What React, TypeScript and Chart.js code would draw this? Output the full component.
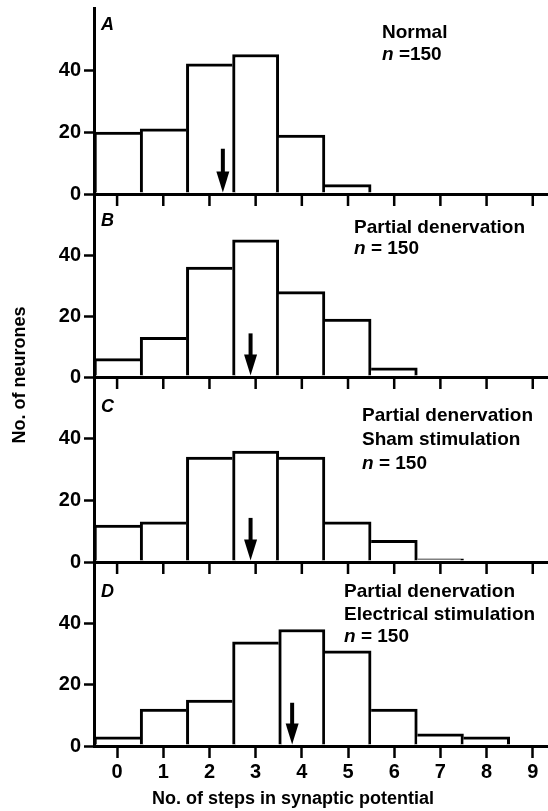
import React, { useEffect, useRef } from 'react';
import { Chart, registerables } from 'chart.js';

Chart.register(...registerables);

// ---- data ----
const xTickValues = [0, 1, 2, 3, 4, 5, 6, 7, 8, 9];
const xTickLabels = ['0', '1', '2', '3', '4', '5', '6', '7', '8', '9'];
const yTickValues = [0, 20, 40];

const countsA = [20, 21, 42, 45, 19, 3];
const countsB = [6, 13, 36, 45, 28, 19, 3];
const countsC = [12, 13, 34, 36, 34, 13, 7, 1];
const countsD = [3, 12, 15, 34, 38, 31, 12, 4, 3];

const arrowX = [2.29, 2.89, 2.89, 3.79];
const arrowTop = [14.6, 14.3, 14.3, 14.1];

const panelLetters = ['A', 'B', 'C', 'D'];
const notesA = ['Normal', 'n =150'];
const notesB = ['Partial denervation', 'n = 150'];
const notesC = ['Partial denervation', 'Sham stimulation', 'n = 150'];
const notesD = ['Partial denervation', 'Electrical stimulation', 'n = 150'];

const yTitle = 'No. of neurones';
const xTitle = 'No. of steps in synaptic potential';

// ---- layout / style ----
const panelCounts = [countsA, countsB, countsC, countsD];
const panelNotes = [notesA, notesB, notesC, notesD];
const panelIds = ['yA', 'yB', 'yC', 'yD'];
const panelWeights = [186, 183, 185, 184];
const letterOffset = [17, 27, 30, 30];
const noteLeft = [382, 354, 362, 344];
const noteFirst = [25, 34, 39, 30];
const noteGap = [22, 21, 24, 22.5];
const BW = 3;

const FAMILY = '"Liberation Sans", Arial, Helvetica, sans-serif';
const bold = (s: number) => `bold ${s}px ${FAMILY}`;
const boldItalic = (s: number) => `italic bold ${s}px ${FAMILY}`;

const decorPlugin = {
  id: 'decor',
  afterDraw(chart: any) {
    const { ctx, scales } = chart;
    const x = scales.x;
    ctx.save();
    ctx.fillStyle = '#000';
    ctx.strokeStyle = '#000';
    panelIds.forEach((id, i) => {
      const y = scales[id];
      const y0 = y.getPixelForValue(0);
      if (i < 3) {
        ctx.lineWidth = 2.5;
        ctx.beginPath();
        xTickValues.forEach((v) => {
          const px = x.getPixelForValue(v);
          ctx.moveTo(px, y0);
          ctx.lineTo(px, y0 + 12);
        });
        ctx.stroke();
      }
      const ax = x.getPixelForValue(arrowX[i]);
      const at = y.getPixelForValue(arrowTop[i]);
      const tip = y0 - 1.5;
      const headH = 21;
      const headW = 13;
      ctx.lineWidth = 4;
      ctx.beginPath();
      ctx.moveTo(ax, at);
      ctx.lineTo(ax, tip - headH + 2);
      ctx.stroke();
      ctx.beginPath();
      ctx.moveTo(ax - headW / 2, tip - headH);
      ctx.lineTo(ax + headW / 2, tip - headH);
      ctx.lineTo(ax, tip);
      ctx.closePath();
      ctx.fill();
      ctx.textBaseline = 'middle';
      ctx.textAlign = 'left';
      ctx.font = boldItalic(18);
      ctx.fillText(panelLetters[i], x.left + 7, y.top + letterOffset[i]);
      panelNotes[i].forEach((line, k) => {
        const ty = y.top + noteFirst[i] + k * noteGap[i];
        let tx = noteLeft[i];
        if (line.startsWith('n ')) {
          ctx.font = boldItalic(19);
          ctx.fillText('n', tx, ty);
          tx += ctx.measureText('n').width;
          ctx.font = bold(19);
          ctx.fillText(line.slice(1), tx, ty);
        } else {
          ctx.font = bold(19);
          ctx.fillText(line, tx, ty);
        }
      });
    });
    ctx.font = bold(18);
    ctx.textAlign = 'center';
    ctx.textBaseline = 'middle';
    ctx.fillText(xTitle, 293, 799);
    ctx.translate(20, 375);
    ctx.rotate(-Math.PI / 2);
    ctx.fillText(yTitle, 0, 0);
    ctx.restore();
  },
};

const makeY = (i: number) => ({
  type: 'linear',
  position: 'left',
  stack: 'panels',
  stackWeight: panelWeights[i],
  weight: 4 - i,
  min: 0,
  max: 60,
  afterBuildTicks: (s: any) => {
    s.ticks = yTickValues.map((v) => ({ value: v }));
  },
  afterFit: (s: any) => {
    s.width = 94;
    s.paddingTop = 0;
    s.paddingBottom = 0;
  },
  border: { display: true, color: '#000', width: 3 },
  grid: {
    drawOnChartArea: true,
    color: (c: any) => (c.tick && c.tick.value === 0 ? '#000' : 'rgba(0,0,0,0)'),
    lineWidth: 3,
    drawTicks: true,
    tickLength: 10,
    tickWidth: 2.5,
    tickColor: '#000',
  },
  ticks: { color: '#000', font: { family: FAMILY, size: 20, weight: 'bold' }, padding: 3 },
});

// one border per shared edge: the taller bar owns the common side
const sideWidths = (ctx: any) => {
  const d = ctx.dataset.data;
  const k = ctx.dataIndex;
  const h = d[k].y;
  const prev = k > 0 ? d[k - 1].y : -1;
  const next = k < d.length - 1 ? d[k + 1].y : -1;
  return {
    top: BW,
    bottom: 0,
    left: prev > h ? 0 : BW,
    right: next < h ? BW : 0,
  };
};

export default function App() {
  const ref = useRef<HTMLCanvasElement | null>(null);
  useEffect(() => {
    if (!ref.current) return;
    const datasets = panelCounts.map((counts, i) => ({
      type: 'bar',
      data: counts.map((c, k) => ({ x: k, y: c })),
      xAxisID: 'x',
      yAxisID: panelIds[i],
      backgroundColor: '#fff',
      borderColor: '#000',
      borderWidth: sideWidths,
      borderSkipped: false,
      grouped: false,
      barPercentage: 1,
      categoryPercentage: 1,
    }));
    const scales: any = {
      x: {
        type: 'linear',
        position: 'bottom',
        min: -0.5,
        max: 9.33,
        offset: false,
        afterBuildTicks: (s: any) => {
          s.ticks = xTickValues.map((v) => ({ value: v }));
        },
        afterFit: (s: any) => {
          s.height = 65;
          s.paddingLeft = 0;
          s.paddingRight = 0;
        },
        border: { display: true, color: '#000', width: 3 },
        grid: {
          offset: false,
          drawOnChartArea: false,
          drawTicks: true,
          tickLength: 12,
          tickWidth: 2.5,
          tickColor: '#000',
          color: '#000',
        },
        ticks: {
          color: '#000',
          font: { family: FAMILY, size: 20, weight: 'bold' },
          padding: 2,
          maxRotation: 0,
          autoSkip: false,
          callback: (_v: any, idx: number) => xTickLabels[idx],
        },
      },
    };
    panelIds.forEach((id, i) => {
      scales[id] = makeY(i);
    });
    const chart = new Chart(ref.current, {
      type: 'bar',
      data: { datasets } as any,
      options: {
        responsive: false,
        animation: false,
        layout: { padding: { top: 8, left: 0, right: 0, bottom: 0 } },
        plugins: { legend: { display: false }, tooltip: { enabled: false } },
        scales,
      } as any,
      plugins: [decorPlugin],
    });
    return () => chart.destroy();
  }, []);
  return (
    <div style={{ position: 'absolute', left: 0, top: 0, width: 548, height: 811, background: '#fff' }}>
      <canvas ref={ref} width={548} height={811} style={{ display: 'block' }} />
    </div>
  );
}
